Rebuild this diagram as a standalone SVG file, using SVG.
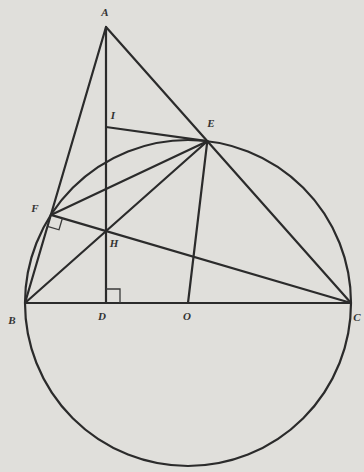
<svg xmlns="http://www.w3.org/2000/svg" width="364" height="472" viewBox="0 0 364 472">
<style>
.ln{stroke:#2b2b2b;stroke-width:2.2;fill:none;stroke-linecap:round;stroke-linejoin:round}
.mk{stroke:#3a3a3a;stroke-width:1.3;fill:none}
.lb{font-family:"Liberation Serif","DejaVu Serif",serif;font-style:italic;font-weight:bold;font-size:11px;fill:#333;text-anchor:middle}
</style>
<rect width="364" height="472" fill="#e0dfdb"/>
<g id="connectors">
<circle class="ln" cx="188" cy="303" r="163"/>
<line class="ln" x1="106" y1="27" x2="25" y2="303"/>
<line class="ln" x1="106" y1="27" x2="351" y2="303"/>
<line class="ln" x1="25" y1="303" x2="351" y2="303"/>
<line class="ln" x1="106" y1="27" x2="106" y2="303"/>
<line class="ln" x1="25" y1="303" x2="207.3" y2="141.2"/>
<line class="ln" x1="351" y1="303" x2="50.9" y2="214.9"/>
<line class="ln" x1="50.9" y1="214.9" x2="207.3" y2="141.2"/>
<line class="ln" x1="106" y1="127" x2="207.3" y2="141.2"/>
<line class="ln" x1="188" y1="303" x2="207.3" y2="141.2"/>
<polyline class="mk" points="106,289 120,289 120,303"/>
<polyline class="mk" points="47.5,226.4 59,229.8 62.4,218.3"/>
</g>
<g id="A"><text class="lb" x="105" y="16">A</text></g>
<g id="I"><text class="lb" x="113" y="119">I</text></g>
<g id="E"><text class="lb" x="211" y="127">E</text></g>
<g id="F"><text class="lb" x="35" y="212">F</text></g>
<g id="H"><text class="lb" x="114" y="247">H</text></g>
<g id="B"><text class="lb" x="12" y="324">B</text></g>
<g id="D"><text class="lb" x="102" y="320">D</text></g>
<g id="O"><text class="lb" x="187" y="320">O</text></g>
<g id="C"><text class="lb" x="357" y="321">C</text></g>
</svg>
